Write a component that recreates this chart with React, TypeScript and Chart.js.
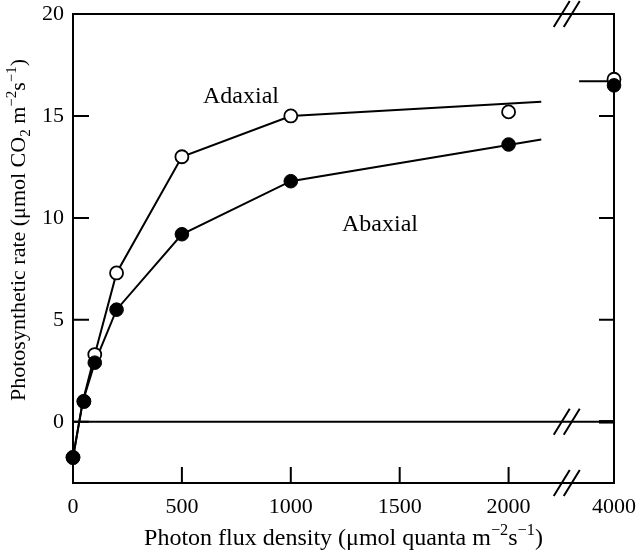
import React, { useEffect, useRef } from 'react';
import { Chart, registerables } from 'chart.js';
Chart.register(...registerables);

// ---- data ----
const photonFlux = [0, 50, 100, 200, 500, 1000, 2000];
const adaxialRate = [-1.75, 1.0, 3.3, 7.3, 13.0, 15.0, 15.2];
const abaxialRate = [-1.75, 1.0, 2.9, 5.5, 9.2, 11.8, 13.6];
const highFlux = [4000];
const adaxialHigh = [16.8];
const abaxialHigh = [16.5];
// drawn response curves
const curveFlux = [0, 45, 100, 200, 500, 1000, 2150];
const adaxialCurve = [-1.75, 1.0, 3.3, 7.3, 13.0, 15.0, 15.7];
const abaxialCurve = [-1.75, 1.0, 2.9, 5.5, 9.2, 11.8, 13.85];
const highCurveFlux = [3200, 4000];
const highCurveRate = [16.7, 16.7];
// ticks
const xTickValues = [0, 500, 1000, 1500, 2000, 4000];
const xInnerTicks = [500, 1000, 1500, 2000];
const yTickValues = [0, 5, 10, 15, 20];
const yInnerTicks = [0, 5, 10, 15];

// broken x axis: values up to BREAK_VALUE are linear, 4000 sits at the right edge
const BREAK_VALUE = 2200;
const X_DISPLAY_MAX = 2484;
const HIGH_VALUE = 4000;
const COMPRESS = 0.2;
const BREAK_MARK_AT = 2267;
const mapX = (v: number) => (v <= BREAK_VALUE ? v : X_DISPLAY_MAX - (HIGH_VALUE - v) * COMPRESS);
const pts = (xs: number[], ys: number[]) => xs.map((x, i) => ({ x: mapX(x), y: ys[i] }));

const FONT = '"Liberation Serif", "Times New Roman", serif';

type Seg = [string, number, number];
function drawRich(ctx: CanvasRenderingContext2D, segs: Seg[], size: number, cx: number, baseline: number) {
  let total = 0;
  const widths = segs.map(([t, f]) => {
    ctx.font = `${size * f}px ${FONT}`;
    const w = ctx.measureText(t).width;
    total += w;
    return w;
  });
  let x = cx - total / 2;
  ctx.textAlign = 'left';
  ctx.textBaseline = 'alphabetic';
  segs.forEach(([t, f, dy], i) => {
    ctx.font = `${size * f}px ${FONT}`;
    ctx.fillText(t, x, baseline + dy * size);
    x += widths[i];
  });
}

const framePlugin = {
  id: 'frame',
  beforeDatasetsDraw(chart: any) {
    const { ctx, chartArea: a, scales } = chart;
    const xs = scales.x, ys = scales.y;
    ctx.save();
    ctx.strokeStyle = '#000';
    ctx.lineWidth = 2;
    ctx.lineCap = 'butt';
    ctx.strokeRect(a.left, a.top, a.right - a.left, a.bottom - a.top);
    const y0 = ys.getPixelForValue(0);
    ctx.beginPath();
    ctx.moveTo(a.left, y0);
    ctx.lineTo(a.right, y0);
    ctx.stroke();
    // inward ticks
    ctx.beginPath();
    yInnerTicks.forEach((v) => {
      const y = ys.getPixelForValue(v);
      ctx.moveTo(a.left, y);
      ctx.lineTo(a.left + 16, y);
      ctx.moveTo(a.right, y);
      ctx.lineTo(a.right - 15, y);
    });
    xInnerTicks.forEach((v) => {
      const x = xs.getPixelForValue(mapX(v));
      ctx.moveTo(x, a.bottom);
      ctx.lineTo(x, a.bottom - 16);
    });
    ctx.stroke();
    ctx.lineWidth = 3.5;
    ctx.beginPath();
    ctx.moveTo(a.right - 15, y0);
    ctx.lineTo(a.right, y0);
    ctx.stroke();
    // break marks
    ctx.lineWidth = 2;
    const bx = xs.getPixelForValue(BREAK_MARK_AT);
    [a.top, y0, a.bottom].forEach((y) => {
      ctx.beginPath();
      [-5, 5].forEach((d) => {
        ctx.moveTo(bx + d - 8, y + 13);
        ctx.lineTo(bx + d + 8, y - 13);
      });
      ctx.stroke();
    });
    ctx.restore();
  },
  afterDraw(chart: any) {
    const { ctx, chartArea: a } = chart;
    ctx.save();
    ctx.fillStyle = '#000';
    // annotations
    drawRich(ctx, [['Adaxial', 1, 0]], 24, 241, 103);
    drawRich(ctx, [['Abaxial', 1, 0]], 24, 380, 231);
    // x title
    drawRich(
      ctx,
      [
        ['Photon flux density (μmol quanta m', 1, 0],
        ['−2', 0.68, -0.4],
        ['s', 1, 0],
        ['−1', 0.68, -0.4],
        [')', 1, 0],
      ],
      24,
      (a.left + a.right) / 2,
      545
    );
    // y title
    ctx.translate(25, 230);
    ctx.rotate(-Math.PI / 2);
    drawRich(
      ctx,
      [
        ['Photosynthetic rate (μmol CO', 1, 0],
        ['2', 0.68, 0.22],
        [' m', 1, 0],
        ['−2', 0.68, -0.4],
        ['s', 1, 0],
        ['−1', 0.68, -0.4],
        [')', 1, 0],
      ],
      22,
      0,
      0
    );
    ctx.restore();
  },
};

export default function App() {
  const ref = useRef<HTMLCanvasElement>(null);
  useEffect(() => {
    document.body.style.margin = '0';
    const canvas = ref.current!;
    const chart = new Chart(canvas, {
      type: 'scatter',
      data: {
        datasets: [
          {
            label: 'Abaxial',
            data: [...pts(photonFlux, abaxialRate), ...pts(highFlux, abaxialHigh)],
            pointRadius: 6.8,
            pointBackgroundColor: '#000',
            pointBorderColor: '#000',
            pointBorderWidth: 1,
            showLine: false,
            order: 0,
            clip: false,
          } as any,
          {
            label: 'Adaxial',
            data: [...pts(photonFlux, adaxialRate), ...pts(highFlux, adaxialHigh)],
            pointRadius: 6.5,
            pointBackgroundColor: '#fff',
            pointBorderColor: '#000',
            pointBorderWidth: 1.8,
            showLine: false,
            order: 1,
            clip: false,
          },
          {
            label: 'Adaxial curve',
            data: pts(curveFlux, adaxialCurve),
            showLine: true,
            pointRadius: 0,
            borderColor: '#000',
            borderWidth: 2,
            tension: 0,
            order: 2,
            clip: false,
          },
          {
            label: 'Abaxial curve',
            data: pts(curveFlux, abaxialCurve),
            showLine: true,
            pointRadius: 0,
            borderColor: '#000',
            borderWidth: 2,
            tension: 0,
            order: 2,
            clip: false,
          },
          {
            label: 'High-light level',
            data: pts(highCurveFlux, highCurveRate),
            showLine: true,
            pointRadius: 0,
            borderColor: '#000',
            borderWidth: 2,
            order: 3,
            clip: false,
          },
        ] as any,
      },
      options: {
        animation: false,
        responsive: true,
        maintainAspectRatio: false,
        layout: { padding: { top: 14, right: 26, left: 0, bottom: 0 } },
        plugins: { legend: { display: false }, tooltip: { enabled: false } },
        scales: {
          x: {
            type: 'linear',
            min: 0,
            max: X_DISPLAY_MAX,
            grid: { display: false, drawTicks: false },
            border: { display: false },
            afterBuildTicks: (s: any) => {
              s.ticks = xTickValues.map((v) => ({ value: mapX(v) }));
            },
            afterFit: (s: any) => {
              s.height = 69;
              s.paddingLeft = 0;
              s.paddingRight = 0;
            },
            ticks: {
              autoSkip: false,
              maxRotation: 0,
              padding: 11,
              color: '#000',
              font: { family: FONT, size: 22 },
              callback: (_v: any, i: number) => String(xTickValues[i]),
            },
          },
          y: {
            type: 'linear',
            min: -3,
            max: 20,
            grid: { display: false, drawTicks: false },
            border: { display: false },
            afterBuildTicks: (s: any) => {
              s.ticks = yTickValues.map((v) => ({ value: v }));
            },
            afterFit: (s: any) => {
              s.width = 73;
              s.paddingTop = 0;
              s.paddingBottom = 0;
            },
            ticks: {
              autoSkip: false,
              padding: 9,
              color: '#000',
              font: { family: FONT, size: 22 },
              callback: (_v: any, i: number) => String(yTickValues[i]),
            },
          },
        },
      } as any,
      plugins: [framePlugin],
    });
    return () => chart.destroy();
  }, []);
  return (
    <div style={{ width: 640, height: 552, position: 'relative' }}>
      <canvas ref={ref} />
    </div>
  );
}
